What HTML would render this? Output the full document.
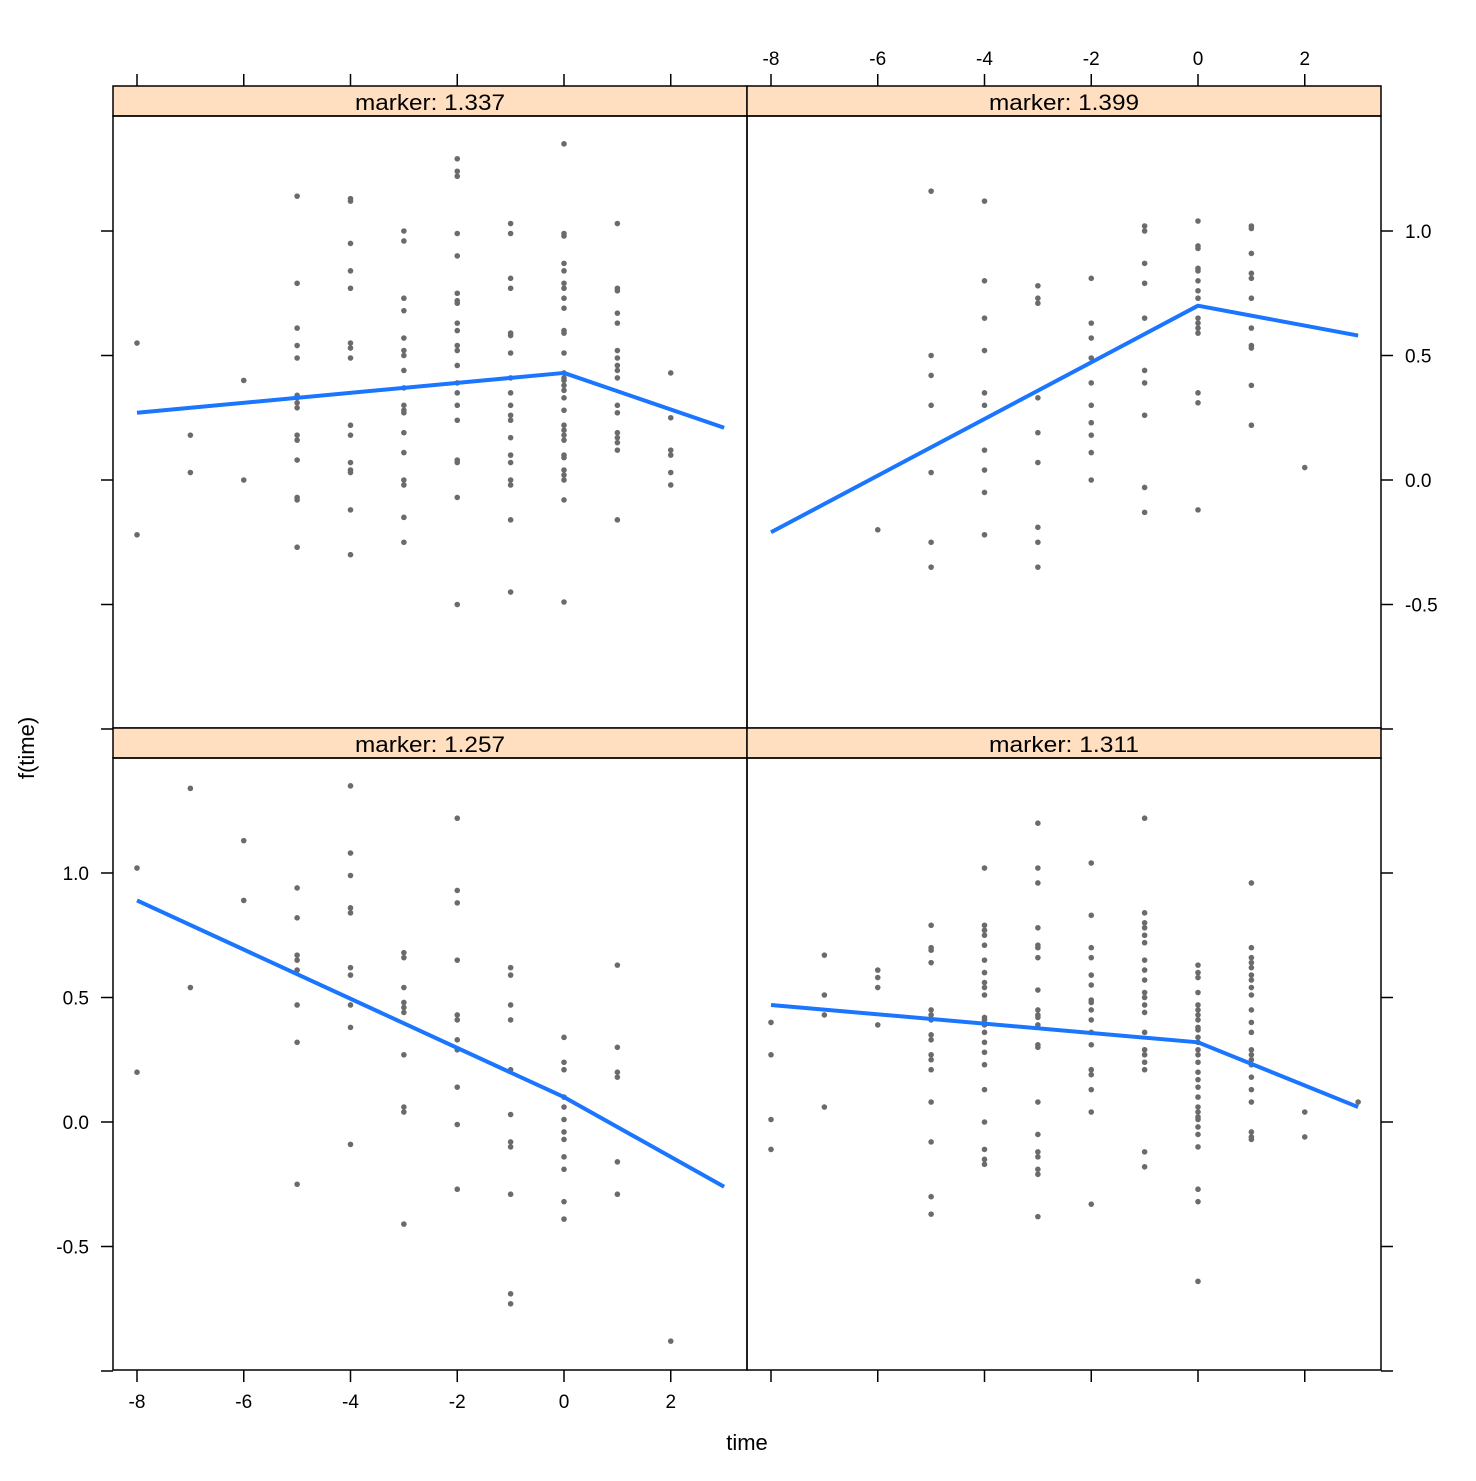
<!DOCTYPE html>
<html><head><meta charset="utf-8"><style>
html,body{margin:0;padding:0;background:#fff}
svg text{font-family:"Liberation Sans",Arial,sans-serif;fill:#000}
</style></head><body>
<svg id="chart" width="1476" height="1476" viewBox="0 0 1476 1476" xmlns="http://www.w3.org/2000/svg"></svg>
<script>
const panelTitles = ["marker: 1.337","marker: 1.399","marker: 1.257","marker: 1.311"];
const xTickValues = [-8,-6,-4,-2,0,2];
const yTickValues = [-1.0,-0.5,0.0,0.5,1.0];
const yTickLabels = ["","-0.5","0.0","0.5","1.0"];
const pts1337 = [[-8,0.55],[-8,-0.22],[-7,0.18],[-7,0.03],[-6,0.40],[-6,0.0],
[-5,1.14],[-5,0.79],[-5,0.61],[-5,0.54],[-5,0.49],[-5,0.34],[-5,0.33],[-5,0.31],[-5,0.29],[-5,0.18],[-5,0.16],[-5,0.08],[-5,-0.07],[-5,-0.08],[-5,-0.27],
[-4,1.13],[-4,1.12],[-4,0.95],[-4,0.84],[-4,0.77],[-4,0.55],[-4,0.53],[-4,0.49],[-4,0.22],[-4,0.18],[-4,0.07],[-4,0.04],[-4,0.03],[-4,-0.12],[-4,-0.30],
[-3,1.0],[-3,0.96],[-3,0.73],[-3,0.68],[-3,0.57],[-3,0.52],[-3,0.50],[-3,0.44],[-3,0.37],[-3,0.30],[-3,0.28],[-3,0.27],[-3,0.19],[-3,0.11],[-3,0.0],[-3,-0.02],[-3,-0.15],[-3,-0.25],
[-2,1.29],[-2,1.24],[-2,1.22],[-2,0.99],[-2,0.90],[-2,0.75],[-2,0.72],[-2,0.71],[-2,0.63],[-2,0.60],[-2,0.54],[-2,0.52],[-2,0.46],[-2,0.39],[-2,0.35],[-2,0.30],[-2,0.24],[-2,0.08],[-2,0.07],[-2,-0.07],[-2,-0.50],
[-1,1.03],[-1,0.99],[-1,0.81],[-1,0.77],[-1,0.59],[-1,0.58],[-1,0.51],[-1,0.41],[-1,0.35],[-1,0.30],[-1,0.26],[-1,0.24],[-1,0.17],[-1,0.10],[-1,0.07],[-1,0.0],[-1,-0.02],[-1,-0.16],[-1,-0.45],
[0,1.35],[0,0.99],[0,0.98],[0,0.87],[0,0.84],[0,0.79],[0,0.77],[0,0.73],[0,0.69],[0,0.60],[0,0.59],[0,0.51],[0,0.43],[0,0.41],[0,0.40],[0,0.38],[0,0.36],[0,0.33],[0,0.28],[0,0.22],[0,0.20],[0,0.18],[0,0.16],[0,0.10],[0,0.09],[0,0.04],[0,0.02],[0,0.0],[0,-0.08],[0,-0.49],
[1,1.03],[1,0.77],[1,0.76],[1,0.67],[1,0.63],[1,0.52],[1,0.49],[1,0.46],[1,0.44],[1,0.41],[1,0.30],[1,0.27],[1,0.19],[1,0.17],[1,0.15],[1,0.12],[1,-0.16],
[2,0.43],[2,0.25],[2,0.12],[2,0.10],[2,0.03],[2,-0.02]];
const pts1399 = [[-6,-0.20],
[-5,1.16],[-5,0.50],[-5,0.42],[-5,0.30],[-5,0.03],[-5,-0.25],[-5,-0.35],
[-4,1.12],[-4,0.80],[-4,0.65],[-4,0.52],[-4,0.35],[-4,0.30],[-4,0.12],[-4,0.04],[-4,-0.05],[-4,-0.22],
[-3,0.78],[-3,0.73],[-3,0.71],[-3,0.33],[-3,0.19],[-3,0.07],[-3,-0.19],[-3,-0.25],[-3,-0.35],
[-2,0.81],[-2,0.63],[-2,0.57],[-2,0.49],[-2,0.39],[-2,0.30],[-2,0.23],[-2,0.18],[-2,0.11],[-2,0.0],
[-1,1.02],[-1,1.0],[-1,0.87],[-1,0.79],[-1,0.65],[-1,0.44],[-1,0.39],[-1,0.26],[-1,-0.03],[-1,-0.13],
[0,1.04],[0,0.94],[0,0.93],[0,0.85],[0,0.84],[0,0.80],[0,0.76],[0,0.73],[0,0.65],[0,0.63],[0,0.61],[0,0.59],[0,0.35],[0,0.31],[0,-0.12],
[1,1.02],[1,1.01],[1,0.91],[1,0.83],[1,0.81],[1,0.73],[1,0.61],[1,0.54],[1,0.53],[1,0.38],[1,0.22],
[2,0.05]];
const pts1257 = [[-8,1.02],[-8,0.20],[-7,1.34],[-7,0.54],[-6,1.13],[-6,0.89],
[-5,0.94],[-5,0.82],[-5,0.67],[-5,0.65],[-5,0.61],[-5,0.47],[-5,0.32],[-5,-0.25],
[-4,1.35],[-4,1.08],[-4,0.99],[-4,0.86],[-4,0.84],[-4,0.62],[-4,0.59],[-4,0.47],[-4,0.38],[-4,-0.09],
[-3,0.68],[-3,0.66],[-3,0.54],[-3,0.48],[-3,0.46],[-3,0.44],[-3,0.27],[-3,0.06],[-3,0.04],[-3,-0.41],
[-2,1.22],[-2,0.93],[-2,0.88],[-2,0.65],[-2,0.43],[-2,0.41],[-2,0.33],[-2,0.29],[-2,0.14],[-2,-0.01],[-2,-0.27],
[-1,0.62],[-1,0.59],[-1,0.47],[-1,0.41],[-1,0.21],[-1,0.03],[-1,-0.08],[-1,-0.10],[-1,-0.29],[-1,-0.69],[-1,-0.73],
[0,0.34],[0,0.24],[0,0.21],[0,0.10],[0,0.06],[0,0.01],[0,-0.04],[0,-0.07],[0,-0.14],[0,-0.19],[0,-0.32],[0,-0.39],
[1,0.63],[1,0.30],[1,0.20],[1,0.18],[1,-0.16],[1,-0.29],
[2,-0.88]];
const pts1311 = [[-8,0.40],[-8,0.27],[-8,0.01],[-8,-0.11],
[-7,0.67],[-7,0.51],[-7,0.43],[-7,0.06],
[-6,0.61],[-6,0.58],[-6,0.54],[-6,0.39],
[-5,0.79],[-5,0.70],[-5,0.69],[-5,0.64],[-5,0.45],[-5,0.43],[-5,0.41],[-5,0.35],[-5,0.33],[-5,0.27],[-5,0.25],[-5,0.21],[-5,0.08],[-5,-0.08],[-5,-0.30],[-5,-0.37],
[-4,1.02],[-4,0.79],[-4,0.77],[-4,0.75],[-4,0.71],[-4,0.65],[-4,0.60],[-4,0.56],[-4,0.54],[-4,0.51],[-4,0.42],[-4,0.41],[-4,0.39],[-4,0.36],[-4,0.32],[-4,0.28],[-4,0.23],[-4,0.13],[-4,0.0],[-4,-0.11],[-4,-0.15],[-4,-0.17],
[-3,1.20],[-3,1.02],[-3,0.96],[-3,0.78],[-3,0.71],[-3,0.70],[-3,0.66],[-3,0.53],[-3,0.45],[-3,0.43],[-3,0.42],[-3,0.39],[-3,0.31],[-3,0.30],[-3,0.08],[-3,-0.05],[-3,-0.12],[-3,-0.14],[-3,-0.19],[-3,-0.21],[-3,-0.38],
[-2,1.04],[-2,0.83],[-2,0.70],[-2,0.66],[-2,0.59],[-2,0.55],[-2,0.49],[-2,0.48],[-2,0.45],[-2,0.41],[-2,0.36],[-2,0.31],[-2,0.21],[-2,0.19],[-2,0.13],[-2,0.04],[-2,-0.33],
[-1,1.22],[-1,0.84],[-1,0.80],[-1,0.78],[-1,0.75],[-1,0.72],[-1,0.65],[-1,0.61],[-1,0.57],[-1,0.52],[-1,0.50],[-1,0.47],[-1,0.44],[-1,0.36],[-1,0.29],[-1,0.27],[-1,0.24],[-1,0.21],[-1,-0.12],[-1,-0.18],
[0,0.63],[0,0.60],[0,0.58],[0,0.52],[0,0.47],[0,0.45],[0,0.43],[0,0.41],[0,0.38],[0,0.37],[0,0.34],[0,0.32],[0,0.29],[0,0.27],[0,0.24],[0,0.20],[0,0.17],[0,0.14],[0,0.10],[0,0.06],[0,0.04],[0,0.02],[0,0.01],[0,-0.02],[0,-0.05],[0,-0.10],[0,-0.27],[0,-0.32],[0,-0.64],
[1,0.96],[1,0.70],[1,0.66],[1,0.64],[1,0.62],[1,0.59],[1,0.57],[1,0.54],[1,0.51],[1,0.45],[1,0.40],[1,0.36],[1,0.29],[1,0.27],[1,0.25],[1,0.23],[1,0.18],[1,0.13],[1,0.08],[1,-0.04],[1,-0.06],[1,-0.07],
[2,0.04],[2,-0.06],[3,0.08]];
const lineTimes = [-8,0,3];
const line1337 = [0.27,0.43,0.21];
const line1399 = [-0.21,0.70,0.58];
const line1257 = [0.89,0.10,-0.26];
const line1311 = [0.47,0.32,0.06];

const svg = document.getElementById('chart');
const NS = 'http://www.w3.org/2000/svg';
function mk(tag, attrs, parent){const e=document.createElementNS(NS,tag);for(const k in attrs)e.setAttribute(k,attrs[k]);(parent||svg).appendChild(e);return e;}

const panels = [
 {x0:113,y0:86,title:panelTitles[0],pts:pts1337,line:line1337,top:'ticks',right:null,left:'ticks',bottom:null,name:'panel-1337'},
 {x0:747,y0:86,title:panelTitles[1],pts:pts1399,line:line1399,top:'labels',right:'labels',left:null,bottom:null,name:'panel-1399'},
 {x0:113,y0:728,title:panelTitles[2],pts:pts1257,line:line1257,top:null,right:null,left:'labels',bottom:'labels',name:'panel-1257'},
 {x0:747,y0:728,title:panelTitles[3],pts:pts1311,line:line1311,top:null,right:'ticks',left:null,bottom:'ticks',name:'panel-1311'}
];
const PW=634, SH=30, PH=612, FS=19;
panels.forEach(p=>{
  const g = mk('g',{});
  
  
  const px0=p.x0, py0=p.y0+SH;
  const xs = t => px0 + 24 + (t+8)*53.375;
  const ys = v => py0 + 364 - v*249;
  const strip = mk('rect',{x:px0,y:p.y0,width:PW,height:SH,fill:'#ffdfc0',stroke:'#000','stroke-width':1.5},g);
  
  
  const st = mk('text',{x:px0+PW/2-75,y:p.y0+24,'font-size':22,textLength:150,lengthAdjust:'spacingAndGlyphs'},g);
  st.textContent = p.title;
  
  
  mk('rect',{x:px0,y:py0,width:PW,height:PH,fill:'none',stroke:'#000','stroke-width':1.5},g);
  const pg = mk('g',{fill:'#6b6b6b'},g);
  p.pts.forEach(d=>{
    const c = mk('circle',{cx:xs(d[0]),cy:ys(d[1]),r:2.8},pg);
    
    
  });
  const ln = mk('polyline',{points:lineTimes.map((t,i)=>xs(t)+','+ys(p.line[i])).join(' '),fill:'none',stroke:'#1a75ff','stroke-width':4,'stroke-linejoin':'round'},g);
  
  
  if(p.top){ xTickValues.forEach(t=>{ mk('line',{x1:xs(t),x2:xs(t),y1:p.y0,y2:p.y0-12,stroke:'#000','stroke-width':1.5},g);
     if(p.top==='labels'){const tx=mk('text',{x:xs(t),y:p.y0-21,'text-anchor':'middle','font-size':FS},g);tx.textContent=t;
       
       }});}
  if(p.bottom){ xTickValues.forEach(t=>{ mk('line',{x1:xs(t),x2:xs(t),y1:py0+PH,y2:py0+PH+12,stroke:'#000','stroke-width':1.5},g);
     if(p.bottom==='labels'){const tx=mk('text',{x:xs(t),y:py0+PH+38,'text-anchor':'middle','font-size':FS},g);tx.textContent=t;
       
       }});}
  if(p.left){ yTickValues.forEach((v,i)=>{ mk('line',{x1:px0,x2:px0-12,y1:ys(v),y2:ys(v),stroke:'#000','stroke-width':1.5},g);
     if(p.left==='labels'&&yTickLabels[i]){const tx=mk('text',{x:px0-24,y:ys(v)+7,'text-anchor':'end','font-size':FS},g);tx.textContent=yTickLabels[i];
       
       }});}
  if(p.right){ yTickValues.forEach((v,i)=>{ mk('line',{x1:px0+PW,x2:px0+PW+12,y1:ys(v),y2:ys(v),stroke:'#000','stroke-width':1.5},g);
     if(p.right==='labels'&&yTickLabels[i]){const tx=mk('text',{x:px0+PW+24,y:ys(v)+7,'text-anchor':'start','font-size':FS},g);tx.textContent=yTickLabels[i];
       
       }});}
});
const xt = mk('text',{x:747,y:1450,'text-anchor':'middle','font-size':22});
xt.textContent='time';


const yt = mk('text',{x:0,y:0,'text-anchor':'middle','font-size':22,transform:'translate(34,748) rotate(-90)'});
yt.textContent='f(time)';


</script>
</body></html>
